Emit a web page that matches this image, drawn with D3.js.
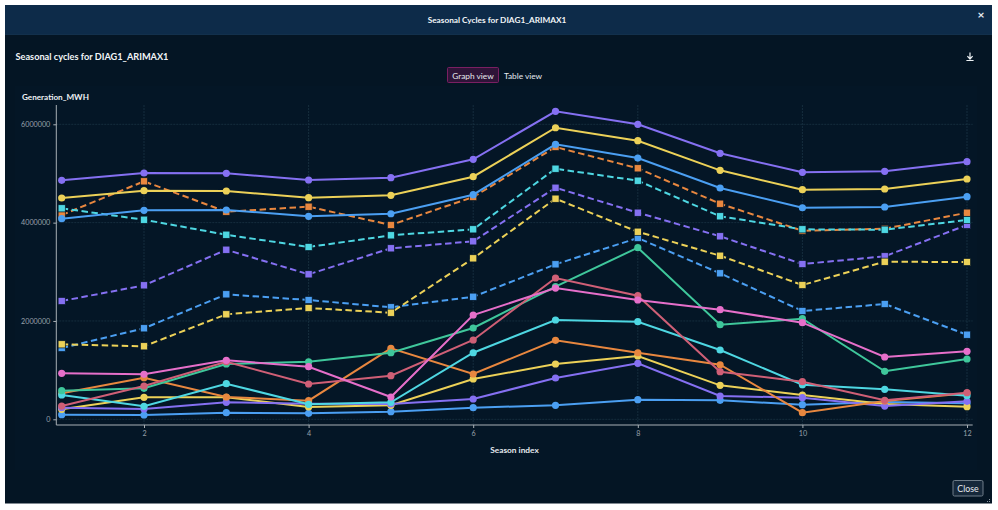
<!DOCTYPE html>
<html>
<head>
<meta charset="utf-8">
<script src="https://cdn.jsdelivr.net/npm/d3@7/dist/d3.min.js"></script>
<style>
html,body{margin:0;padding:0;background:#fff;width:998px;height:510px;overflow:hidden}
svg{display:block;font-family:Lato,sans-serif}
</style>
</head>
<body>
<svg id="c" width="998" height="510"></svg>
<script>
const seasons = [1,2,3,4,5,6,7,8,9,10,11,12];
const xTickValues = [2,4,6,8,10,12];
const yTickValues = [0,2000000,4000000,6000000];

const dashedBlue   = [1450000,1851000,2542000,2426000,2278000,2493000,3152000,3687000,2969000,2203000,2345000,1721000];
const dashedPurple = [2406000,2725000,3449000,2949000,3478000,3620000,4710000,4202000,3722000,3158000,3315000,3952000];
const dashedOrange = [4155000,4840000,4222000,4324000,3952000,4521000,5538000,5105000,4385000,3836000,3876000,4202000];
const dashedCyan   = [4291000,4059000,3754000,3504000,3742000,3864000,5097000,4853000,4129000,3864000,3856000,4053000];
const dashedYellow = [1525000,1485000,2135000,2264000,2168000,3274000,4487000,3815000,3327000,2731000,3205000,3199000];

const solidTopPurple = [4861000,5009000,5003000,4867000,4914000,5288000,6264000,6000000,5410000,5023000,5044000,5239000];
const solidTopYellow = [4501000,4649000,4643000,4507000,4556000,4934000,5930000,5666000,5064000,4670000,4684000,4887000];
const solidTopBlue   = [4080000,4251000,4257000,4129000,4181000,4568000,5593000,5314000,4704000,4303000,4318000,4527000];
const solidGreen  = [582000,630000,1125000,1171000,1354000,1857000,2700000,3490000,1924000,2046000,976000,1226000];
const solidRose   = [270000,677000,1171000,718000,887000,1613000,2874000,2514000,968000,765000,386000,541000];
const solidPink   = [936000,915000,1200000,1070000,454000,2121000,2670000,2426000,2229000,1965000,1267000,1383000];
const solidOrange = [529000,846000,454000,378000,1444000,921000,1607000,1354000,1110000,134000,372000,529000];
const solidCyan   = [494000,264000,724000,305000,346000,1354000,2020000,1985000,1409000,704000,610000,480000];
const solidYellow = [203000,447000,447000,250000,285000,820000,1125000,1287000,691000,494000,311000,256000];
const solidPurple = [236000,209000,346000,317000,311000,413000,840000,1139000,474000,439000,270000,366000];
const solidBlue   = [94000,87000,134000,122000,155000,236000,285000,399000,386000,297000,352000,325000];

const PURPLE="#8570f2",YELLOW="#ecd158",BLUE="#4b9ff2",ORANGE="#e8873f",CYAN="#4ed7e2",GREEN="#3fc79b",ROSE="#cf5f76",PINK="#e66fca";

const dashedSeries = [
  [dashedBlue,BLUE],[dashedPurple,PURPLE],[dashedOrange,ORANGE],[dashedYellow,YELLOW],[dashedCyan,CYAN]
];
const solidSeries = [
  [solidBlue,BLUE],[solidYellow,YELLOW],[solidPurple,PURPLE],[solidOrange,ORANGE],[solidCyan,CYAN],
  [solidGreen,GREEN],[solidRose,ROSE],[solidPink,PINK],
  [solidTopBlue,BLUE],[solidTopYellow,YELLOW],[solidTopPurple,PURPLE]
];

const svg = d3.select("#c");
// dialog frame
svg.append("rect").attr("x",5).attr("y",5).attr("width",987).attr("height",498.5).attr("fill","#041524");
svg.append("rect").attr("x",15).attr("y",86).attr("width",962).attr("height",384).attr("fill","#041626");
svg.append("rect").attr("x",5).attr("y",5).attr("width",987).attr("height",29).attr("fill","#0d2b49");
svg.append("rect").attr("x",5).attr("y",34).attr("width",987).attr("height",1).attr("fill","#12304c");
const txt=(x,y,s,size,w,fill,anchor)=>svg.append("text").attr("x",x).attr("y",y).text(s)
  .attr("font-size",size).attr("font-weight",w).attr("fill",fill).attr("text-anchor",anchor||"start");
txt(497,22.8,"Seasonal Cycles for DIAG1_ARIMAX1",8.25,700,"#f2f5f8","middle");
txt(981,19,"×",12,700,"#e8edf2","middle");
txt(15.5,59.5,"Seasonal cycles for DIAG1_ARIMAX1",9.2,700,"#f2f5f8");
// download icon
svg.append("path").attr("d","M970 52.5v6M967.4 56.2l2.6 2.8 2.6-2.8M966.4 60.5h7.2").attr("fill","none").attr("stroke","#eef2f5").attr("stroke-width",1.2);
// toggle
svg.append("rect").attr("x",447.5).attr("y",67.5).attr("width",51).attr("height",15).attr("rx",1).attr("fill","#2e1438").attr("stroke","#7a1f62");
txt(473,78.5,"Graph view",8.3,400,"#e6e9ee","middle");
txt(504,78.5,"Table view",8.3,400,"#e6e9ee");
txt(22,100,"Generation_MWH",8.15,700,"#eef1f4");

const x = d3.scaleLinear().domain([1,12]).range([61.7,967]);
const y = d3.scaleLinear().domain([0,6000000]).range([419.3,124.3]);
const plotLeft=56.3,plotRight=972.7,plotTop=105,plotBottom=425;

// grid
const grid=svg.append("g").attr("stroke","#1a3344").attr("stroke-width",0.8).attr("stroke-dasharray","2 1");
grid.selectAll(".v").data(xTickValues).join("line").attr("class","v").attr("x1",d=>x(d)).attr("x2",d=>x(d)).attr("y1",plotTop).attr("y2",plotBottom);
grid.selectAll(".h").data(yTickValues).join("line").attr("class","h").attr("y1",d=>y(d)).attr("y2",d=>y(d)).attr("x1",plotLeft).attr("x2",plotRight);

// axes
const style=g=>{
  g.selectAll("path").remove();
  g.selectAll("line").attr("stroke","#a8afb5");
  g.selectAll("text").attr("fill","#98a1aa").attr("font-size",7.2).attr("font-family","Lato,sans-serif");
};
svg.append("g").attr("transform",`translate(${plotLeft},0)`)
  .call(d3.axisLeft(y).tickValues(yTickValues).tickFormat(d3.format("d")).tickSize(3).tickPadding(3)).call(style);
svg.append("g").attr("transform",`translate(0,${plotBottom})`)
  .call(d3.axisBottom(x).tickValues(xTickValues).tickFormat(d3.format("d")).tickSize(3).tickPadding(3)).call(style);
svg.append("line").attr("x1",plotLeft).attr("x2",plotLeft).attr("y1",plotTop).attr("y2",plotBottom).attr("stroke","#a8afb5");
svg.append("line").attr("x1",plotLeft).attr("x2",plotRight).attr("y1",plotBottom).attr("y2",plotBottom).attr("stroke","#a8afb5");
txt(514.5,452.5,"Season index",8.3,700,"#e6e9ee","middle");

const line=d3.line().x((d,i)=>x(seasons[i])).y(d=>y(d));
dashedSeries.forEach(([vals,col])=>{
  const g=svg.append("g");
  g.append("path").attr("d",line(vals)).attr("fill","none").attr("stroke",col).attr("stroke-width",2).attr("stroke-dasharray","6.5 3.5");
  g.selectAll("rect").data(vals).join("rect")
    .attr("x",(d,i)=>x(seasons[i])-3.6).attr("y",d=>y(d)-3.6).attr("width",7.2).attr("height",7.2)
    .attr("fill",col).attr("stroke","#041626").attr("stroke-width",0.7);
});
solidSeries.forEach(([vals,col])=>{
  const g=svg.append("g");
  g.append("path").attr("d",line(vals)).attr("fill","none").attr("stroke",col).attr("stroke-width",2);
  g.selectAll("circle").data(vals).join("circle")
    .attr("cx",(d,i)=>x(seasons[i])).attr("cy",d=>y(d)).attr("r",3.6)
    .attr("fill",col);
});

// close button
svg.append("rect").attr("x",953).attr("y",480.5).attr("width",30).attr("height",15.5).attr("rx",1.5).attr("fill","#16283a").attr("stroke","#6f7d89");
txt(968,491.5,"Close",8.8,400,"#e6e9ee","middle");
// resize grip
svg.append("path").attr("d","M989 499.5h1M987 501.5h1M989 501.5h1").attr("stroke","#8d98a2").attr("stroke-width",1);
</script>
</body>
</html>
